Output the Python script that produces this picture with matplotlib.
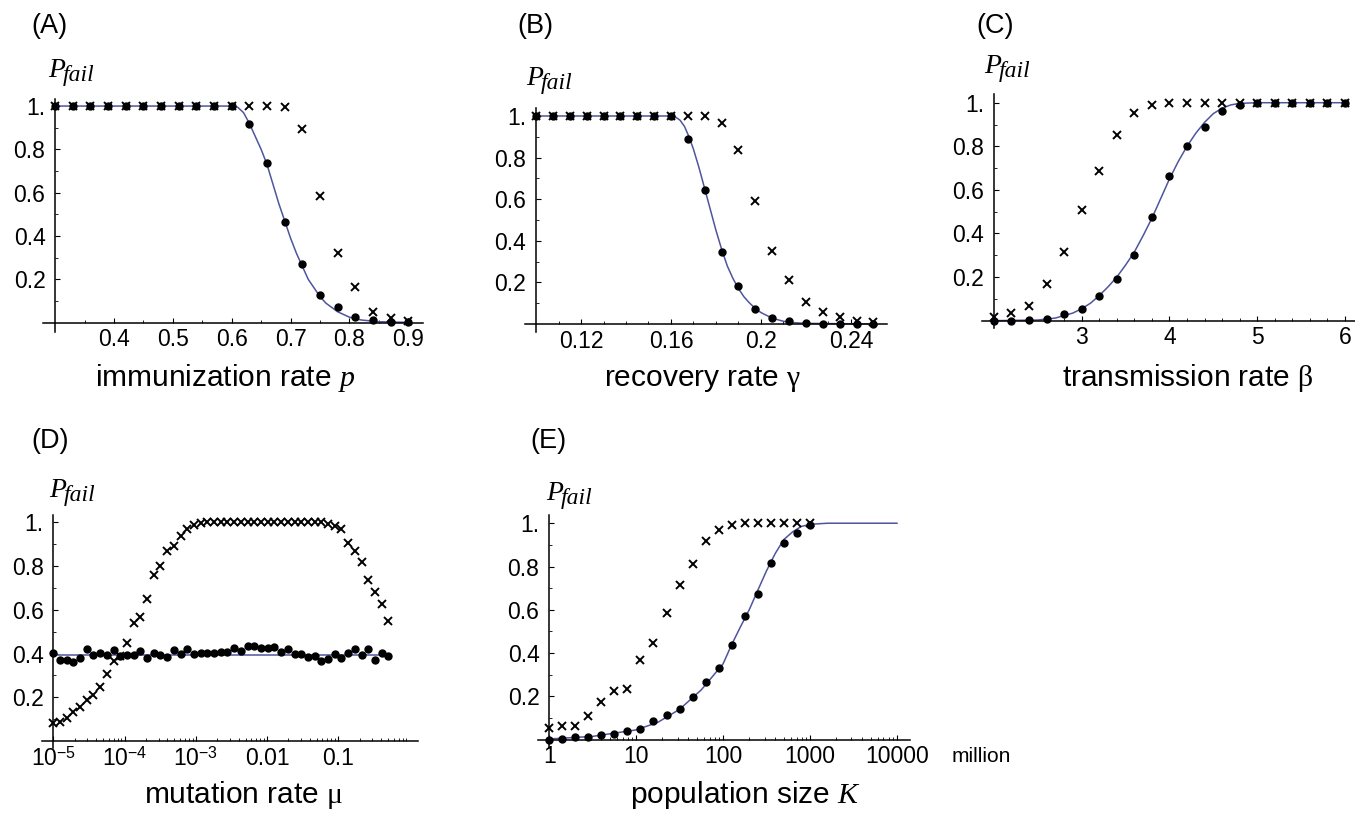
import numpy as np
import matplotlib.pyplot as plt

plt.rcParams['font.family'] = ['Liberation Sans', 'DejaVu Sans']
plt.rcParams['mathtext.fontset'] = 'custom'
plt.rcParams['mathtext.rm'] = 'Liberation Sans'
plt.rcParams['mathtext.it'] = 'Liberation Serif:italic'
plt.rcParams['mathtext.sf'] = 'Liberation Serif'

# ================= DATA =================
# (A) immunization rate p
a_x = [0.30, 0.33, 0.36, 0.39, 0.42, 0.45, 0.48, 0.51, 0.54, 0.57, 0.60,
       0.63, 0.66, 0.69, 0.72, 0.75, 0.78, 0.81, 0.84, 0.87, 0.90]
a_dots = [1, 1, 1, 1, 1, 1, 1, 1, 1, 1, 1,
          0.915, 0.735, 0.466, 0.271, 0.128, 0.072, 0.025, 0.012, 0.003, 0.003]
a_cross = [1, 1, 1, 1, 1, 1, 1, 1, 1, 1, 1,
           1.0, 1.0, 0.994, 0.892, 0.586, 0.32, 0.163, 0.048, 0.02, 0.009]
a_curve_x = [0.30, 0.60, 0.61, 0.62, 0.63, 0.64, 0.65, 0.66, 0.67, 0.68, 0.69, 0.70,
             0.71, 0.72, 0.73, 0.74, 0.75, 0.76, 0.77, 0.78, 0.80, 0.82, 0.85, 0.90]
a_curve_y = [1.0, 1.0, 0.995, 0.97, 0.92, 0.86, 0.80, 0.73, 0.64, 0.55, 0.47, 0.39,
             0.32, 0.26, 0.20, 0.16, 0.12, 0.09, 0.07, 0.05, 0.025, 0.012, 0.004, 0.001]

# (B) recovery rate gamma
b_x = [0.1, 0.1075, 0.115, 0.1225, 0.13, 0.1375, 0.145, 0.1525, 0.16, 0.1675, 0.175,
       0.1825, 0.19, 0.1975, 0.205, 0.2125, 0.22, 0.2275, 0.235, 0.2425, 0.25]
b_dots = [1, 1, 1, 1, 1, 1, 1, 1, 1,
          0.891, 0.643, 0.348, 0.183, 0.072, 0.027, 0.013, 0.006, 0.002, 0.001, 0.001, 0.001]
b_cross = [1, 1, 1, 1, 1, 1, 1, 1, 1,
           1.0, 1.0, 0.965, 0.837, 0.59, 0.353, 0.212, 0.106, 0.059, 0.032, 0.016, 0.01]
b_curve_x = [0.10, 0.16, 0.162, 0.164, 0.166, 0.168, 0.17, 0.1725, 0.175, 0.1775, 0.18,
             0.1825, 0.185, 0.1875, 0.19, 0.1925, 0.195, 0.1975, 0.20, 0.205, 0.21,
             0.215, 0.22, 0.25]
b_curve_y = [1.0, 1.0, 0.995, 0.98, 0.95, 0.90, 0.84, 0.75, 0.65, 0.55, 0.45,
             0.36, 0.28, 0.22, 0.17, 0.13, 0.10, 0.075, 0.055, 0.028, 0.013,
             0.006, 0.003, 0.0]

# (C) transmission rate beta
c_x = [2.0, 2.2, 2.4, 2.6, 2.8, 3.0, 3.2, 3.4, 3.6, 3.8, 4.0,
       4.2, 4.4, 4.6, 4.8, 5.0, 5.2, 5.4, 5.6, 5.8, 6.0]
c_dots = [0, 0, 0.003, 0.009, 0.029, 0.055, 0.113, 0.193, 0.303, 0.474, 0.662,
          0.801, 0.89, 0.962, 0.991, 1, 1, 1, 1, 1, 1]
c_cross = [0.018, 0.034, 0.067, 0.167, 0.313, 0.506, 0.687, 0.853, 0.951, 0.989, 1,
           1, 1, 1, 1, 1, 1, 1, 1, 1, 1]
c_curve_x = [2.0, 2.5, 2.7, 2.9, 3.0, 3.1, 3.2, 3.3, 3.4, 3.5, 3.6, 3.7, 3.8, 3.9,
             4.0, 4.1, 4.2, 4.3, 4.4, 4.5, 4.6, 4.7, 4.8, 5.0, 6.0]
c_curve_y = [0.0, 0.003, 0.012, 0.035, 0.055, 0.08, 0.115, 0.155, 0.2, 0.255, 0.315,
             0.39, 0.47, 0.56, 0.65, 0.73, 0.8, 0.86, 0.91, 0.95, 0.975, 0.99, 0.997,
             1.0, 1.0]

# (D) mutation rate mu (log axis)
d_x = [1.00e-5, 1.24e-5, 1.54e-5, 1.91e-5, 2.38e-5, 2.95e-5, 3.66e-5, 4.55e-5,
       5.65e-5, 7.01e-5, 8.71e-5, 1.08e-4, 1.34e-4, 1.67e-4, 2.07e-4, 2.57e-4,
       3.19e-4, 3.96e-4, 4.92e-4, 6.11e-4, 7.59e-4, 9.42e-4, 1.17e-3, 1.45e-3,
       1.80e-3, 2.24e-3, 2.78e-3, 3.45e-3, 4.29e-3, 5.32e-3, 6.61e-3, 8.21e-3,
       1.02e-2, 1.27e-2, 1.57e-2, 1.95e-2, 2.43e-2, 3.01e-2, 3.74e-2, 4.65e-2,
       5.77e-2, 7.16e-2, 8.89e-2, 0.110, 0.137, 0.170, 0.212, 0.263, 0.326, 0.405, 0.503]
d_dots = [0.401, 0.370, 0.370, 0.363, 0.378, 0.419, 0.393, 0.401, 0.393, 0.416,
          0.390, 0.393, 0.393, 0.411, 0.378, 0.401, 0.393, 0.385, 0.416, 0.398,
          0.419, 0.398, 0.404, 0.404, 0.404, 0.408, 0.408, 0.428, 0.413, 0.434,
          0.434, 0.427, 0.428, 0.431, 0.408, 0.419, 0.396, 0.396, 0.386, 0.390,
          0.367, 0.375, 0.396, 0.378, 0.404, 0.419, 0.393, 0.419, 0.373, 0.404, 0.389]
d_cross = [0.081, 0.088, 0.104, 0.134, 0.157, 0.187, 0.21, 0.248, 0.306, 0.367,
           0.39, 0.447, 0.538, 0.566, 0.652, 0.759, 0.80, 0.87, 0.892, 0.937,
           0.968, 0.988, 0.998, 1, 1, 1, 1, 1, 1, 1,
           1, 1, 1, 1, 1, 1, 1, 1, 1, 1,
           1, 0.995, 0.983, 0.972, 0.908, 0.869, 0.82, 0.736, 0.683, 0.625, 0.549]
d_curve_x = [1e-5, 0.5]
d_curve_y = [0.394, 0.394]

# (E) population size K (million, log axis)
e_x = [1, 1.41, 2.00, 2.82, 3.98, 5.62, 7.94, 11.2, 15.8, 22.4, 31.6,
       44.7, 63.1, 89.1, 126, 178, 251, 355, 501, 708, 1000]
e_dots = [0.0, 0.003, 0.011, 0.011, 0.023, 0.026, 0.041, 0.049, 0.084, 0.115, 0.141,
          0.196, 0.265, 0.331, 0.436, 0.571, 0.675, 0.815, 0.91, 0.956, 0.99]
e_cross = [0.054, 0.061, 0.065, 0.108, 0.172, 0.223, 0.235, 0.366, 0.446, 0.585, 0.715,
           0.812, 0.919, 0.968, 0.992, 1.0, 1.0, 1.0, 1.0, 1.0, 1.0]
e_curve_x = [1, 3.16, 10, 17.8, 31.6, 56.2, 100, 126, 158, 200, 251, 316, 398,
             501, 631, 794, 1000, 1585, 10000]
e_curve_y = [0.003, 0.015, 0.045, 0.08, 0.14, 0.23, 0.35, 0.44, 0.52, 0.60, 0.69,
             0.78, 0.86, 0.925, 0.96, 0.985, 0.995, 1.0, 1.0]

# ================= LAYOUT =================
W, H = 1355, 819
fig = plt.figure(figsize=(W / 100, H / 100), dpi=100)

BLUE = '#4e559e'
TICK_FS = 16.5
LABEL_FS = 21.5
PANEL_FS = 19.5


def px_axes(left, right, top, bottom):
    return fig.add_axes([left / W, 1 - bottom / H, (right - left) / W, (bottom - top) / H])


def style_axes(ax, x0, xlim, ylim, xmajor, xlabels, xminor, log=False):
    if log:
        ax.set_xscale('log')
    ax.set_xlim(*xlim)
    ax.set_ylim(*ylim)
    ax.patch.set_visible(False)
    for s in ('top', 'right'):
        ax.spines[s].set_visible(False)
    ax.spines['left'].set_position(('data', x0))
    ax.spines['bottom'].set_position(('data', 0))
    for s in ('left', 'bottom'):
        ax.spines[s].set_linewidth(1.1)
    ax.set_yticks([0.2, 0.4, 0.6, 0.8, 1.0])
    ax.set_yticklabels(['0.2', '0.4', '0.6', '0.8', '1.'])
    ax.set_yticks([0.1, 0.3, 0.5, 0.7, 0.9], minor=True)
    ax.set_xticks(xmajor)
    ax.set_xticklabels(xlabels)
    ax.set_xticks(xminor, minor=True)
    ax.xaxis.set_minor_formatter(plt.NullFormatter())
    ax.tick_params(which='major', direction='in', length=3.5, width=0.8,
                   labelsize=TICK_FS, colors='black')
    ax.tick_params(axis='y', which='major', pad=7)
    ax.tick_params(axis='x', which='major', pad=4)
    ax.tick_params(which='minor', direction='in', length=2, width=0.6)


def draw(ax, x, dots, cross, cx, cy):
    ax.plot(cx, cy, color=BLUE, lw=1.1, zorder=2, clip_on=False)
    ax.plot(x, cross, 'x', color='black', ms=5.5, mew=1.4, zorder=3, clip_on=False)
    ax.plot(x, dots, 'o', color='black', ms=5, mec='black', zorder=4, clip_on=False)


def pfail(x, y):
    fig.text(x / W, 1 - y / H, 'P', fontsize=20, family='Liberation Serif',
             style='italic', va='baseline', ha='left')
    fig.text((x + 15) / W, 1 - (y + 4) / H, 'fail', fontsize=17,
             family='Liberation Serif', style='italic', va='baseline', ha='left')


# (A)
ax = px_axes(43, 423, 98.7, 331.7)
style_axes(ax, 0.3, (0.2794, 0.925), (-0.042, 1.034),
           [0.4, 0.5, 0.6, 0.7, 0.8, 0.9], ['0.4', '0.5', '0.6', '0.7', '0.8', '0.9'],
           [0.35, 0.45, 0.55, 0.65, 0.75, 0.85])
draw(ax, a_x, a_dots, a_cross, a_curve_x, a_curve_y)
fig.text(31 / W, 1 - 26 / H, '(A)', fontsize=PANEL_FS, va='center')
pfail(48, 77)
fig.text(225 / W, 1 - 386 / H, 'immunization rate $p$', fontsize=LABEL_FS,
         ha='center', va='baseline')

# (B)
ax = px_axes(525, 886.7, 108.3, 331.7)
style_axes(ax, 0.1, (0.0951, 0.2559), (-0.037, 1.037),
           [0.12, 0.16, 0.2, 0.24], ['0.12', '0.16', '0.2', '0.24'],
           [0.11, 0.13, 0.14, 0.15, 0.17, 0.18, 0.19, 0.21, 0.22, 0.23, 0.25])
draw(ax, b_x, b_dots, b_cross, b_curve_x, b_curve_y)
fig.text(517 / W, 1 - 26 / H, '(B)', fontsize=PANEL_FS, va='center')
pfail(526, 85)
fig.text(703 / W, 1 - 386 / H, r'recovery rate $\mathsf{\gamma}$', fontsize=LABEL_FS,
         ha='center', va='baseline')

# (C)
ax = px_axes(981.7, 1355, 94, 328.3)
style_axes(ax, 2.0, (1.861, 6.114), (-0.035, 1.04),
           [3, 4, 5, 6], ['3', '4', '5', '6'],
           [2.2, 2.4, 2.6, 2.8, 3.2, 3.4, 3.6, 3.8, 4.2, 4.4, 4.6, 4.8,
            5.2, 5.4, 5.6, 5.8, 6.0])
draw(ax, c_x, c_dots, c_cross, c_curve_x, c_curve_y)
fig.text(976 / W, 1 - 26 / H, '(C)', fontsize=PANEL_FS, va='center')
pfail(984, 73)
fig.text(1188 / W, 1 - 386 / H, r'transmission rate $\mathsf{\beta}$', fontsize=LABEL_FS,
         ha='center', va='baseline')

# (D)
d_minor = [m * 10.0 ** e for e in range(-5, 0) for m in range(2, 10)]
ax = px_axes(41.7, 418.3, 515, 748.3)
style_axes(ax, 1e-5, (10 ** -5.163, 10 ** 0.123), (-0.033, 1.034),
           [1e-5, 1e-4, 1e-3, 1e-2, 1e-1],
           ['$10^{-5}$', '$10^{-4}$', '$10^{-3}$', '0.01', '0.1'],
           d_minor, log=True)
draw(ax, d_x, d_dots, d_cross, d_curve_x, d_curve_y)
fig.text(31 / W, 1 - 441 / H, '(D)', fontsize=PANEL_FS, va='center')
pfail(49, 497)
fig.text(244 / W, 1 - 803 / H, r'mutation rate $\mathsf{\mu}$', fontsize=LABEL_FS,
         ha='center', va='baseline')

# (E)
e_minor = [m * 10.0 ** e for e in range(0, 4) for m in range(2, 10)]
ax = px_axes(538, 910, 515, 748.3)
style_axes(ax, 1, (10 ** -0.128, 10 ** 4.15), (-0.04, 1.038),
           [1, 10, 100, 1000, 10000], ['1', '10', '100', '1000', '10000'],
           e_minor, log=True)
draw(ax, e_x, e_dots, e_cross, e_curve_x, e_curve_y)
fig.text(530 / W, 1 - 441 / H, '(E)', fontsize=PANEL_FS, va='center')
pfail(546, 500)
fig.text(745 / W, 1 - 803 / H, 'population size $K$', fontsize=LABEL_FS,
         ha='center', va='baseline')
fig.text(952 / W, 1 - 757 / H, 'million', fontsize=15, va='center')

plt.savefig('out.png', dpi=100)
